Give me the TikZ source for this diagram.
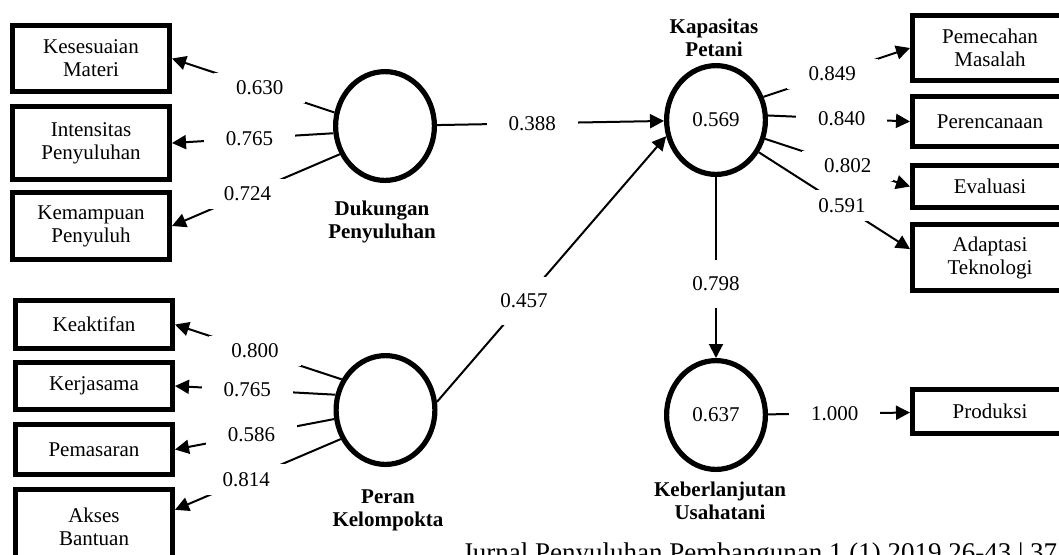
\documentclass[tikz,border=0pt]{standalone}
\usepackage{fontspec}
\setmainfont{Liberation Serif}
\usetikzlibrary{arrows.meta}
\usetikzlibrary{shapes.geometric}

\tikzset{
ind/.style={draw, line width=2.5pt, minimum width=78.5pt, align=center, inner sep=1pt, font=\fontsize{10.5}{11.5}\selectfont},
lat/.style={ellipse, draw, line width=2.6pt, minimum width=49.4pt, minimum height=54.4pt, inner sep=0pt, font=\fontsize{10.5}{12}\selectfont},
ttl/.style={align=center, font=\fontsize{10.5}{11.5}\selectfont\bfseries},
arr/.style={line width=1pt, -{Triangle[length=7pt,width=7pt]}},
lbl/.style={fill=white, inner xsep=11pt, inner ysep=4pt, font=\fontsize{10.5}{12}\selectfont},
}

\begin{document}
\begin{tikzpicture} [x=0.5pt,y=-0.5pt]
\useasboundingbox (0,0) rectangle (1059,554);

\node[ind, minimum height=33pt] (kes) at (91,58.5) {Kesesuaian\\Materi};
\node[ind, minimum height=36.5pt] (int) at (91,143) {Intensitas\\Penyuluhan};
\node[ind, minimum height=33.5pt] (kem) at (91,226) {Kemampuan\\Penyuluh};

\node[ind, minimum height=24pt] (kea) at (94,324.5) {Keaktifan};
\node[ind, minimum height=23.5pt] (ker) at (94,386) {Kerjasama};
\node[ind, minimum height=25pt] (pem) at (94,449.5) {Pemasaran};
\node[ind, minimum height=37.5pt] (aks) at (94,527) {Akses\\Bantuan};

\node[ind, minimum width=77.5pt, minimum height=32.5pt] (pmc) at (990,48) {Pemecahan\\Masalah};
\node[ind, minimum width=77.5pt, minimum height=25pt] (prc) at (990,121.5) {Perencanaan};
\node[ind, minimum width=77.5pt, minimum height=21pt] (evl) at (990,186.5) {Evaluasi};
\node[ind, minimum width=77.5pt, minimum height=33pt] (adt) at (990,257.5) {Adaptasi\\Teknologi};
\node[ind, minimum width=77.5pt, minimum height=22pt] (prd) at (990,411.5) {Produksi};

\node[lat] (dk) at (385,126) {};
\node[lat] (pk) at (385.5,410) {};
\node[lat] (kp) at (716,120) {0.569};
\node[lat] (ku) at (716,415) {0.637};

\node[ttl] (dkt) at (382,222) {Dukungan\\Penyuluhan};
\node[ttl] (pkt) at (388,510) {Peran\\Kelompokta};
\node[ttl] (kpt) at (714,37.5) {Kapasitas\\Petani};
\node[ttl] (kut) at (720,501) {Keberlanjutan\\Usahatani};

\foreach \a/\b/\v/\p in {165/kes.east/0.630/.46, 188/int.east/0.765/.52, 212/kem.east/0.724/.55} \draw[arr] (dk.\a) -- node[lbl, pos=\p] {\v} (\b);

\foreach \a/\b/\v/\p in {145/kea.east/0.800/.52, 163/ker.east/0.765/.55, 190/pem.east/0.586/.52, 213/aks.12/0.814/.57} \draw[arr] (pk.\a) -- node[lbl, pos=\p] {\v} (\b);

\foreach \a/\b/\v/\p in {26/pmc.west/0.849/.47, 5/prc.west/0.840/.52, -21/evl.west/0.802/.57, -37/adt.174/0.591/.55} \draw[arr] (kp.\a) -- node[lbl, pos=\p] {\v} (\b);

\draw[arr] (dk) -- node[lbl, pos=.42] {0.388} (kp);
\draw[arr] (pk.9) -- node[lbl, pos=.38, inner ysep=8.5pt] {0.457} (kp.198);
\draw[arr] (kp) -- node[lbl, pos=.59, inner ysep=8.5pt, inner xsep=2pt] {0.798} (ku);
\draw[arr] (ku) -- node[lbl, pos=.47] {1.000} (prd);

\node[anchor=base west, inner sep=0pt, font=\fontsize{13.5}{16}\selectfont] (ftr) at (462,561) {Jurnal Penyuluhan Pembangunan 1 (1) 2019 26-43 \textbar\ 37};

\end{tikzpicture}
\end{document}
